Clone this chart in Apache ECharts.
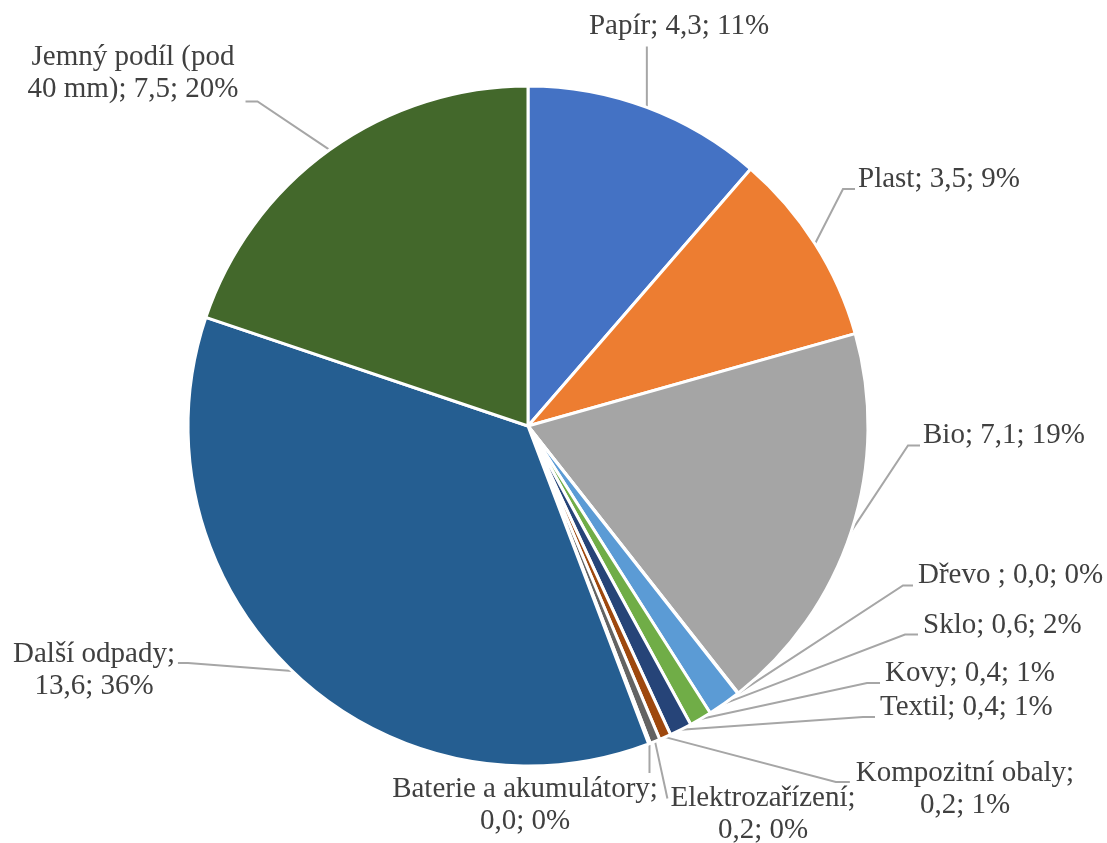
<!DOCTYPE html>
<html>
<head>
<meta charset="utf-8">
<script src="https://cdn.jsdelivr.net/npm/echarts@6/dist/echarts.min.js"></script>
<style>
  html, body { margin: 0; padding: 0; background: #ffffff; }
  #chart { width: 1107px; height: 843px; }
</style>
</head>
<body>
<div id="chart"></div>
<script>
// Waste composition: category names, amounts and slice colours
const categories = [
  'Papír', 'Plast', 'Bio', 'Dřevo ', 'Sklo', 'Kovy', 'Textil',
  'Kompozitní obaly', 'Elektrozařízení', 'Baterie a akumulátory',
  'Další odpady', 'Jemný podíl (pod 40 mm)'
];
const amounts = [4.3, 3.5, 7.1, 0.01, 0.6, 0.4, 0.4, 0.21, 0.18, 0.03, 13.6, 7.5];
const sliceColors = [
  '#4472C4', '#ED7D31', '#A5A5A5', '#FFC000', '#5B9BD5', '#70AD47',
  '#264478', '#9E480E', '#636363', '#997300', '#255E91', '#43682B'
];
// Where a long label wraps onto a second line
const labelBreaks = ['', '', '', '', '', '', '', 'obaly; ', 'zařízení; ', 'akumulátory; ', 'odpady; ', '(pod '];

// Label placement and leader-line hook for each slice
const labelSpots = [
  { x: 679, y: 26.5,  align: 'center', side: 'bottom', gap: 4 },
  { x: 858, y: 179.5, align: 'left',   side: 'left',  dy: 9.5,  gap: 3, elbow: 12 },
  { x: 923, y: 435.5, align: 'left',   side: 'left',  dy: 10,   gap: 3, elbow: 12 },
  { x: 918, y: 575.5, align: 'left',   side: 'left',  dy: 10,   gap: 5, elbow: 10 },
  { x: 923, y: 625.5, align: 'left',   side: 'left',  dy: 9,    gap: 5, elbow: 13 },
  { x: 885, y: 673.5, align: 'left',   side: 'left',  dy: 9.5,  gap: 5, elbow: 13 },
  { x: 880, y: 707.5, align: 'left',   side: 'left',  dy: 9.5,  gap: 5, elbow: 12 },
  { x: 965, y: 789.5, align: 'center', side: 'left',  dy: -7.5, gap: 6, elbow: 14 },
  { x: 763, y: 814.5, align: 'center', side: 'left',  dy: -16,  gap: 3, elbow: 0 },
  { x: 525, y: 805,   align: 'center', side: 'top',   gap: 0 },
  { x: 94,  y: 670.5, align: 'center', side: 'right', dy: -7.5, gap: 3, elbow: 10 },
  { x: 133, y: 73.5,  align: 'center', side: 'right', dy: 28,   gap: 7, elbow: 12 }
];

const total = amounts.reduce((a, b) => a + b, 0);

function labelText(p) {
  const pct = Math.round(p.value / total * 100);
  const txt = p.name + '; ' + p.value.toFixed(1).replace('.', ',') + '; ' + pct + '%';
  const br = labelBreaks[p.dataIndex];
  return br ? txt.replace(br, br.trimEnd() + '\n') : txt;
}

function placeLabel(p) {
  const s = labelSpots[p.dataIndex];
  const w = p.labelRect.width, h = p.labelRect.height;
  const left = s.align === 'center' ? s.x - w / 2 : s.x;
  const right = left + w;
  const top = s.y - h / 2, bottom = s.y + h / 2;
  const anchor = p.labelLinePoints[0];
  let end, elbow;
  if (s.side === 'left') {
    end = [left - s.gap, s.y + s.dy];
    elbow = [end[0] - s.elbow, end[1]];
  } else if (s.side === 'right') {
    end = [right + s.gap, s.y + s.dy];
    elbow = [end[0] + s.elbow, end[1]];
  } else if (s.side === 'bottom') {
    end = [anchor[0], bottom + s.gap];
    elbow = end;
  } else {
    end = [anchor[0], top - s.gap];
    elbow = end;
  }
  return {
    x: s.x, y: s.y, align: s.align, verticalAlign: 'middle',
    labelLinePoints: [anchor, elbow, end]
  };
}

const chart = echarts.init(document.getElementById('chart'), null, { renderer: 'canvas' });
chart.setOption({
  animation: false,
  backgroundColor: '#ffffff',
  series: [{
    type: 'pie',
    center: [528, 426],
    radius: 340,
    startAngle: 90,
    clockwise: true,
    avoidLabelOverlap: false,
    silent: true,
    data: categories.map((name, i) => ({
      name: name,
      value: amounts[i],
      itemStyle: { color: sliceColors[i] }
    })),
    itemStyle: { borderColor: '#ffffff', borderWidth: 3 },
    label: {
      show: true,
      position: 'outside',
      formatter: labelText,
      fontFamily: 'Liberation Serif',
      fontSize: 29,
      lineHeight: 32,
      color: '#404040'
    },
    labelLine: {
      show: true,
      length: 20,
      length2: 10,
      lineStyle: { color: '#A6A6A6', width: 2 }
    },
    labelLayout: placeLabel,
    emphasis: { disabled: true }
  }]
});
</script>
</body>
</html>
